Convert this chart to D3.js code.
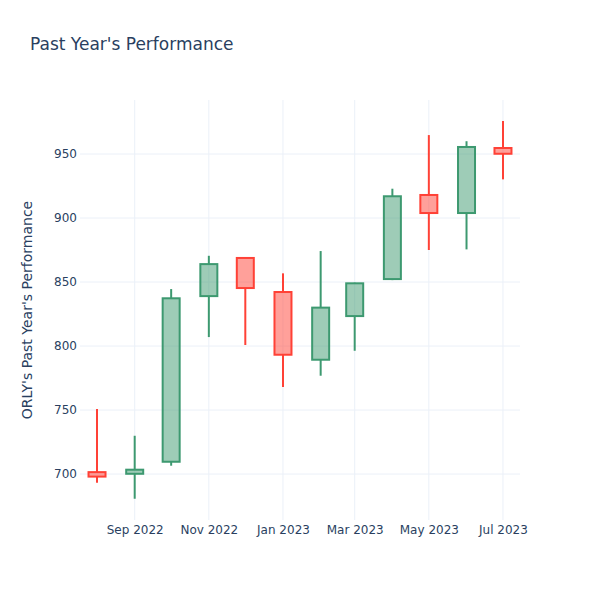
<!DOCTYPE html>
<html>
<head>
<meta charset="utf-8">
<script src="https://cdn.jsdelivr.net/npm/d3@7"></script>
<style>
  html, body { margin: 0; padding: 0; background: #fff; }
  svg { display: block; font-family: "DejaVu Sans", Verdana, sans-serif; }
</style>
</head>
<body>
<svg id="chart" width="600" height="600"></svg>
<script>
const dates = ["2022-08-01","2022-09-01","2022-10-01","2022-11-01","2022-12-01","2023-01-01",
               "2023-02-01","2023-03-01","2023-04-01","2023-05-01","2023-06-01","2023-07-01"];
const openVals  = [701.5, 700.2, 709.6, 839.0, 868.8, 842.2, 789.3, 823.4, 852.3, 918.0, 903.9, 954.7];
const highVals  = [750.8, 729.9, 844.5, 870.5, 869.0, 856.8, 874.2, 849.5, 922.9, 964.8, 960.0, 975.8];
const lowVals   = [693.2, 680.7, 706.5, 807.0, 800.8, 768.0, 776.8, 796.3, 851.5, 875.0, 875.5, 930.2];
const closeVals = [698.0, 703.4, 837.3, 864.0, 845.3, 793.2, 830.0, 849.0, 917.0, 903.9, 955.5, 950.2];
const yTicks = [700, 750, 800, 850, 900, 950];
const xTickDates = ["2022-09-01","2022-11-01","2023-01-01","2023-03-01","2023-05-01","2023-07-01"];

const parse = d3.utcParse("%Y-%m-%d");
const data = dates.map((d, i) => ({
  date: parse(d), open: openVals[i], high: highVals[i], low: lowVals[i], close: closeVals[i]
}));

const svg = d3.select("#chart");
const L = 80, R = 520, T = 100, B = 520;
const inc = "#3D9970", dec = "#FF4136";

const x = d3.scaleUtc()
  .domain([parse("2022-07-18"), parse("2023-07-15")])
  .range([L, R]);
const y = d3.scaleLinear().domain([664.1, 992.2]).range([B, T]);

// grid
const g = svg.append("g");
g.selectAll(".yg").data(yTicks).join("line")
  .attr("x1", L).attr("x2", R)
  .attr("y1", d => y(d)).attr("y2", d => y(d))
  .attr("stroke", "#EBF0F8").attr("stroke-width", 1);
g.selectAll(".xg").data(xTickDates.map(parse)).join("line")
  .attr("x1", d => x(d)).attr("x2", d => x(d))
  .attr("y1", T).attr("y2", B)
  .attr("stroke", "#EBF0F8").attr("stroke-width", 1);

// axes (labels only)
const yAxis = d3.axisLeft(y).tickValues(yTicks).tickSize(0).tickPadding(3);
const ya = svg.append("g").attr("transform", `translate(${L},0)`).call(yAxis);
ya.select(".domain").remove();
ya.selectAll("text").attr("fill", "#2a3f5f").style("font-size", "12px")
  .style("font-family", "'DejaVu Sans', Verdana, sans-serif");

const fmt = d3.utcFormat("%b %Y");
const xAxis = d3.axisBottom(x).tickValues(xTickDates.map(parse)).tickFormat(fmt).tickSize(0).tickPadding(5);
const xa = svg.append("g").attr("transform", `translate(0,${B})`).call(xAxis);
xa.select(".domain").remove();
xa.selectAll("text").attr("fill", "#2a3f5f").style("font-size", "12px")
  .style("font-family", "'DejaVu Sans', Verdana, sans-serif");

// candles
const boxW = 17;
const c = svg.append("g");
const candles = c.selectAll("g.candle").data(data).join("g").attr("class", "candle");
candles.each(function(d) {
  const sel = d3.select(this);
  const up = d.close >= d.open;
  const col = up ? inc : dec;
  const top = y(Math.max(d.open, d.close)), bot = y(Math.min(d.open, d.close));
  const cx = x(d.date);
  sel.append("line")
    .attr("x1", cx).attr("x2", cx)
    .attr("y1", y(d.high)).attr("y2", top)
    .attr("stroke", col).attr("stroke-width", 2);
  sel.append("line")
    .attr("x1", cx).attr("x2", cx)
    .attr("y1", bot).attr("y2", y(d.low))
    .attr("stroke", col).attr("stroke-width", 2);
  sel.append("rect")
    .attr("x", cx - boxW / 2).attr("width", boxW)
    .attr("y", top).attr("height", bot - top)
    .attr("fill", up ? "rgba(61,153,112,0.5)" : "rgba(255,65,54,0.5)")
    .attr("stroke", col).attr("stroke-width", 2);
});

// titles
svg.append("text").attr("x", 30).attr("y", 50)
  .attr("fill", "#2a3f5f").style("font-size", "17px")
  .text("Past Year's Performance");
svg.append("text")
  .attr("transform", `translate(32,${(T + B) / 2}) rotate(-90)`)
  .attr("text-anchor", "middle")
  .attr("fill", "#2a3f5f").style("font-size", "14px")
  .text("ORLY's Past Year's Performance");
</script>
</body>
</html>
